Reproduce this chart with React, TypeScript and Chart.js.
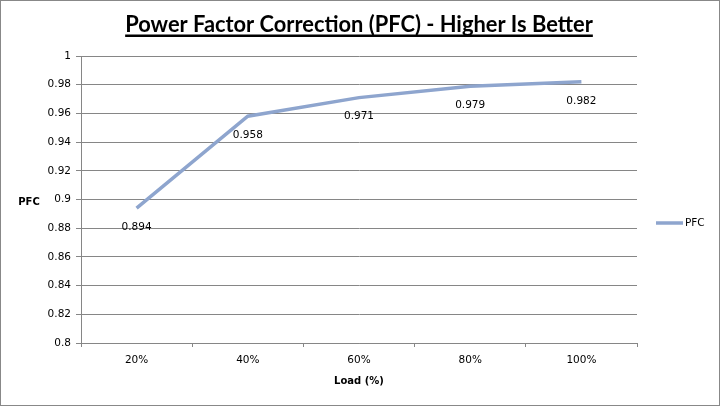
import React, { useEffect, useRef } from "react";
import { Chart, registerables } from "chart.js";

Chart.register(...registerables);

const categories = ["20%", "40%", "60%", "80%", "100%"];
const pfcValues = [0.894, 0.958, 0.971, 0.979, 0.982];
const seriesName = "PFC";
const chartTitle = "Power Factor Correction (PFC) - Higher Is Better";
const xTitle = "Load (%)";
const yTitle = "PFC";
const yMin = 0.8;
const yMax = 1;
const yStep = 0.02;

const LINE_COLOR = "#8EA5CE";
const GRID_COLOR = "#868686";
const TEXT_FONT = "'DejaVu Sans', sans-serif";

const decorPlugin = {
  id: "decor",
  beforeDraw(chart: any) {
    const ctx = chart.ctx;
    ctx.save();
    ctx.fillStyle = "#ffffff";
    ctx.fillRect(0, 0, chart.width, chart.height);
    ctx.restore();
  },
  afterDatasetsDraw(chart: any) {
    const ctx = chart.ctx;
    const meta = chart.getDatasetMeta(0);
    ctx.save();
    ctx.fillStyle = "#000000";
    ctx.font = `10.5px ${TEXT_FONT}`;
    ctx.textAlign = "center";
    ctx.textBaseline = "middle";
    meta.data.forEach((pt: any, i: number) => {
      ctx.fillText(String(pfcValues[i]), pt.x, pt.y + 19);
    });
    ctx.restore();
  },
  afterDraw(chart: any) {
    const ctx = chart.ctx;
    const area = chart.chartArea;
    ctx.save();
    // Title, fitted to width
    const targetW = 468;
    let size = 20;
    ctx.font = `bold ${size}px Lato, sans-serif`;
    const w0 = ctx.measureText(chartTitle).width;
    size = (size * targetW) / w0;
    ctx.font = `bold ${size}px Lato, sans-serif`;
    const cx = (area.left + area.right) / 2;
    ctx.fillStyle = "#000000";
    ctx.textAlign = "center";
    ctx.textBaseline = "alphabetic";
    ctx.fillText(chartTitle, cx, 32);
    const tw = ctx.measureText(chartTitle).width;
    ctx.fillRect(cx - tw / 2, 34.5, tw, 2.5);

    // Axis titles
    ctx.font = `bold 10px ${TEXT_FONT}`;
    ctx.textBaseline = "middle";
    ctx.fillText(yTitle, 29, 202);
    ctx.fillText(xTitle, cx, 381);

    // Legend
    ctx.strokeStyle = LINE_COLOR;
    ctx.lineWidth = 3.5;
    ctx.beginPath();
    ctx.moveTo(656, 223);
    ctx.lineTo(683, 223);
    ctx.stroke();
    ctx.font = `10.5px ${TEXT_FONT}`;
    ctx.textAlign = "left";
    ctx.fillText(seriesName, 685, 223);

    // Outer border
    ctx.strokeStyle = "#888888";
    ctx.lineWidth = 1;
    ctx.strokeRect(0.5, 0.5, chart.width - 1, chart.height - 1);
    ctx.restore();
  },
};

export default function App() {
  const ref = useRef<HTMLCanvasElement | null>(null);

  useEffect(() => {
    document.body.style.margin = "0";
    const canvas = ref.current;
    if (!canvas) return;
    const chart = new Chart(canvas, {
      type: "line",
      data: {
        labels: categories,
        datasets: [
          {
            label: seriesName,
            data: pfcValues,
            borderColor: LINE_COLOR,
            backgroundColor: LINE_COLOR,
            borderWidth: 3.5,
            pointRadius: 0,
            tension: 0,
          },
        ],
      },
      options: {
        responsive: false,
        animation: false,
        devicePixelRatio: 1,
        layout: { padding: { left: 0, right: 83, top: 56, bottom: 0 } },
        plugins: {
          legend: { display: false },
          title: { display: false },
          tooltip: { enabled: false },
        },
        scales: {
          x: {
            offset: true,
            afterFit(scale: any) {
              scale.height = 63;
            },
            grid: {
              offset: true,
              drawOnChartArea: false,
              drawTicks: true,
              tickLength: 4,
              color: GRID_COLOR,
            },
            border: { display: true, color: GRID_COLOR },
            ticks: {
              color: "#000000",
              font: { family: TEXT_FONT, size: 10.5 },
              padding: 7,
              maxRotation: 0,
            },
          },
          y: {
            min: yMin,
            max: yMax,
            afterFit(scale: any) {
              scale.width = 81;
            },
            grid: {
              color: GRID_COLOR,
              tickLength: 5,
              drawTicks: true,
            },
            border: { display: true, color: GRID_COLOR },
            ticks: {
              stepSize: yStep,
              color: "#000000",
              padding: 5,
              font: { family: TEXT_FONT, size: 10.5 },
              callback: (v: any) => String(Number(Number(v).toFixed(2))),
            },
          },
        },
      },
      plugins: [decorPlugin],
    } as any);
    return () => chart.destroy();
  }, []);

  return (
    <div style={{ position: "fixed", left: 0, top: 0, width: 720, height: 406 }}>
      <canvas ref={ref} width={720} height={406} style={{ display: "block" }} />
    </div>
  );
}
